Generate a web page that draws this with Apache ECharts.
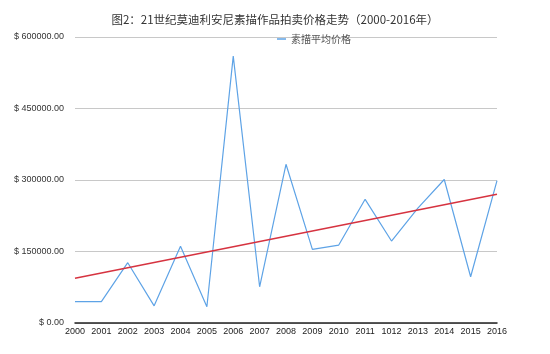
<!DOCTYPE html>
<html>
<head>
<meta charset="utf-8">
<script src="https://cdn.jsdelivr.net/npm/echarts@6/dist/echarts.min.js"></script>
<style>
html,body{margin:0;padding:0;background:#fff;}
#chart{width:550px;height:354px;}
</style>
</head>
<body>
<div id="chart"></div>
<script>
// years as printed on the chart (incl. the "1012" typo)
var years = ['2000','2001','2002','2003','2004','2005','2006','2007','2008',
             '2009','2010','2011','1012','2013','2014','2015','2016'];
// average drawing price per year
var avgPrice = [45000, 45000, 126500, 36000, 161000, 34000, 560000, 76000, 333000,
                154500, 163500, 259500, 172000, 241000, 301000, 97000, 298500];
// trend line ends
var trendStart = 94000;
var trendEnd = 270000;
var yTicks = [0, 150000, 300000, 450000, 600000];

var trend = [];
for (var i = 0; i < years.length; i++) {
    trend.push(null);
}
trend[0] = trendStart;
trend[years.length - 1] = trendEnd;

var myChart = echarts.init(document.getElementById('chart'));
var option = {
    animation: false,
    title: {
        text: '图2：21世纪莫迪利安尼素描作品拍卖价格走势（2000-2016年）',
        left: 'center',
        top: 9,
        textStyle: {
            fontFamily: 'Noto Sans CJK SC',
            fontSize: 11.5,
            fontWeight: 'normal',
            color: '#333'
        }
    },
    legend: {
        data: ['素描平均价格'],
        left: 272,
        top: 29,
        icon: 'rect',
        itemWidth: 9,
        itemHeight: 1.5,
        itemGap: 4,
        textStyle: {
            fontFamily: 'Noto Sans CJK SC',
            fontSize: 10,
            color: '#555'
        }
    },
    grid: {
        left: 75,
        right: 53,
        top: 37,
        bottom: 31
    },
    xAxis: {
        type: 'category',
        boundaryGap: false,
        data: years,
        axisLine: { lineStyle: { color: '#222', width: 1.5 } },
        axisTick: { show: false },
        axisLabel: {
            interval: 0,
            margin: 4,
            fontFamily: 'Helvetica, Liberation Sans, Arial',
            fontSize: 9,
            color: '#222'
        }
    },
    yAxis: {
        type: 'value',
        min: yTicks[0],
        max: yTicks[yTicks.length - 1],
        interval: yTicks[1] - yTicks[0],
        axisLine: { show: false },
        axisTick: { show: false },
        splitLine: { lineStyle: { color: '#c8c8c8', width: 1 } },
        axisLabel: {
            margin: 11,
            fontFamily: 'Helvetica, Liberation Sans, Arial',
            fontSize: 9,
            color: '#333',
            formatter: function (v) { return '$ ' + v.toFixed(2); }
        }
    },
    series: [
        {
            name: '素描平均价格',
            type: 'line',
            data: avgPrice,
            symbol: 'none',
            lineStyle: { color: '#5ea3e6', width: 1.2 },
            itemStyle: { color: '#5ea3e6' }
        },
        {
            name: '趋势',
            type: 'line',
            data: trend,
            connectNulls: true,
            symbol: 'none',
            lineStyle: { color: '#d63340', width: 1.5 },
            z: 3
        }
    ]
};
myChart.setOption(option);
</script>
</body>
</html>
